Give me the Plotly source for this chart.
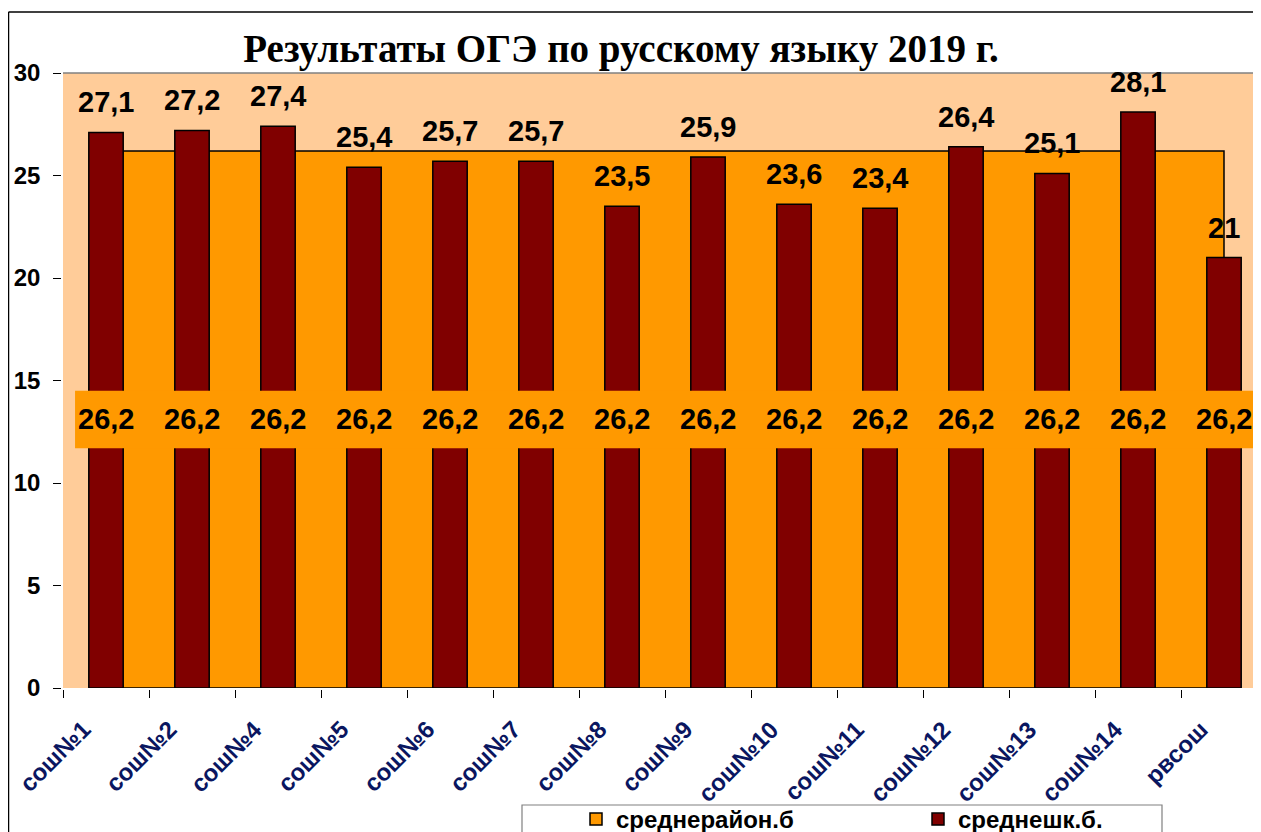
import plotly.graph_objects as go

categories = ["сош№1", "сош№2", "сош№4", "сош№5", "сош№6", "сош№7", "сош№8",
              "сош№9", "сош№10", "сош№11", "сош№12", "сош№13", "сош№14", "рвсош"]
school_avg = [27.1, 27.2, 27.4, 25.4, 25.7, 25.7, 23.5, 25.9, 23.6, 23.4, 26.4, 25.1, 28.1, 21]
district_avg = [26.2] * len(categories)
series_names = ["среднерайон.б", "среднешк.б."]
title_text = "Результаты ОГЭ по русскому языку 2019 г."

ORANGE = "#FF9900"
MAROON = "#800000"
PEACH = "#FFCC99"
LABEL_FONT = dict(family="Liberation Sans, Arial", size=29, color="black")
XLABEL_FONT = dict(family="Liberation Sans, Arial", size=24, color="#0A1660", weight="bold")

# figure geometry (page body has an 8px margin)
W, H = 1253, 824
L, T, B = 55, 65, 144
PW, PH = W - L, H - T - B

def px_x(x):
    return (x - L) / PW

def px_y(y):
    return (H - B - y) / PH

def fmt(v):
    return ("%g" % v).replace(".", ",")

n = len(categories)
fig = go.Figure()

# area (district average) drawn as closed polygon behind bars
fig.add_trace(go.Scatter(
    x=categories + [categories[-1], categories[0]],
    y=district_avg + [0, 0],
    fill="toself", fillcolor=ORANGE, mode="lines",
    line=dict(color="black", width=1.5),
    name=series_names[0], zorder=0, hoverinfo="skip", showlegend=False,
))

fig.add_trace(go.Bar(
    x=categories, y=school_avg, name=series_names[1],
    marker=dict(color=MAROON, line=dict(color="black", width=1.5)),
    width=0.4, zorder=1, showlegend=False,
))

# legend entries
fig.add_trace(go.Bar(x=[None], y=[None], name=series_names[0],
                     marker=dict(color=ORANGE, line=dict(color="black", width=1.5))))
fig.add_trace(go.Bar(x=[None], y=[None], name=series_names[1],
                     marker=dict(color=MAROON, line=dict(color="black", width=1.5))))

annotations = []
for c, v in zip(categories, school_avg):
    annotations.append(dict(
        x=c, y=v, text="<b>%s</b>" % fmt(v), showarrow=False,
        yanchor="bottom", yshift=12, font=LABEL_FONT,
    ))
for c, v in zip(categories, district_avg):
    annotations.append(dict(
        x=c, y=v / 2, text="<b>%s</b>" % fmt(v), showarrow=False,
        yanchor="middle", font=LABEL_FONT,
    ))
# rotated category labels
for c in categories:
    annotations.append(dict(
        x=c, y=0, yref="paper", text=c, showarrow=False, textangle=-45,
        xanchor="right", yanchor="top", xshift=-8, yshift=-25, font=XLABEL_FONT,
    ))

shapes = [
    # background band for district labels
    dict(type="rect", xref="x", yref="y", x0=-0.36, x1=n - 1 + 0.36,
         y0=district_avg[0] / 2 - 1.4, y1=district_avg[0] / 2 + 1.4,
         fillcolor=ORANGE, line=dict(width=0), layer="above"),
    # top border of plot area
    dict(type="line", xref="paper", yref="paper", x0=0, x1=1, y0=1, y1=1,
         line=dict(color="#808080", width=1.5)),
    # chart outer frame
    dict(type="line", xref="paper", yref="paper", x0=px_x(0.5), x1=1.1,
         y0=px_y(4), y1=px_y(4), line=dict(color="black", width=1.5)),
    dict(type="line", xref="paper", yref="paper", x0=px_x(0.5), x1=px_x(0.5),
         y0=px_y(4), y1=px_y(H + 20), line=dict(color="black", width=1.5)),
    # legend box
    dict(type="rect", xref="paper", yref="paper", x0=px_x(514), x1=px_x(1154),
         y0=px_y(797), y1=px_y(H + 20), fillcolor="white",
         line=dict(color="#808080", width=1.2), layer="above"),
]
fig.update_layout(annotations=annotations, shapes=shapes)

fig.update_layout(
    width=W, height=H,
    margin=dict(l=L, r=0, t=T, b=B, autoexpand=False),
    paper_bgcolor="white", plot_bgcolor=PEACH,
    title=dict(text="<b>%s</b>" % title_text, x=613 / W, xref="container",
               y=1 - 40 / H, yref="container", yanchor="middle", xanchor="center",
               font=dict(family="Liberation Serif, Times New Roman", size=39, color="black")),
    showlegend=True,
    legend=dict(orientation="h", x=px_x(568), y=px_y(789),
                xanchor="left", yanchor="top", bgcolor="rgba(0,0,0,0)",
                borderwidth=0,
                entrywidth=297, entrywidthmode="pixels",
                font=dict(family="Liberation Sans, Arial", size=24, color="black", weight="bold"),
                traceorder="normal"),
    bargap=0.6,
)

fig.update_xaxes(
    type="category", range=[-0.5, -0.5 + PW / 86],
    tickson="boundaries", ticks="outside", ticklen=8, tickcolor="black",
    showline=True, linecolor="black", linewidth=1.5, showgrid=False,
    showticklabels=False,
)
fig.update_yaxes(
    range=[0, 30], tickvals=[0, 5, 10, 15, 20, 25, 30],
    ticks="outside", ticklen=8, tickcolor="black",
    showline=True, linecolor="black", linewidth=1.5, showgrid=False, zeroline=False,
    ticklabelstandoff=8,
    tickfont=dict(family="Liberation Sans, Arial", size=24, color="black", weight="bold"),
)

fig.write_html("out.html")
